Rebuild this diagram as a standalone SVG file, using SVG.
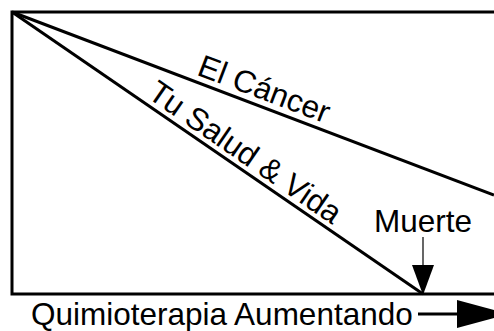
<svg xmlns="http://www.w3.org/2000/svg" width="494" height="331" viewBox="0 0 494 331">
<style>
.t{font-family:"Liberation Sans",Arial,sans-serif;font-size:31.5px;fill:#000}
.thick{fill:none;stroke:#000;stroke-width:3}
.thin{fill:none;stroke:#000;stroke-width:1.2}
</style>
<rect width="494" height="331" fill="#fff"/>
<g id="frame"><path class="thick" d="M494,12 H12 V294 H494"/></g>
<g id="connectors">
<line class="thick" x1="12" y1="12" x2="494" y2="195"/>
<line class="thick" x1="12" y1="12" x2="423" y2="294"/>
<line class="thin" x1="423" y1="237" x2="423" y2="266"/>
<polygon points="412,265 434,265 423,295" fill="#000"/>
<line class="thick" x1="418" y1="314" x2="460" y2="314"/>
<polygon points="457,300 457,328 509,314" fill="#000"/>
</g>
<g id="cancer"><text class="t" text-anchor="middle" transform="translate(258,105.5) rotate(20.8)" y="-7">El Cáncer</text></g>
<g id="salud"><text class="t" text-anchor="middle" transform="translate(236,166) rotate(34.5)" y="-6">Tu Salud &amp; Vida</text></g>
<g id="muerte"><text class="t" text-anchor="middle" x="423" y="232">Muerte</text></g>
<g id="axis"><text class="t" x="31" y="325">Quimioterapia Aumentando</text></g>
</svg>
